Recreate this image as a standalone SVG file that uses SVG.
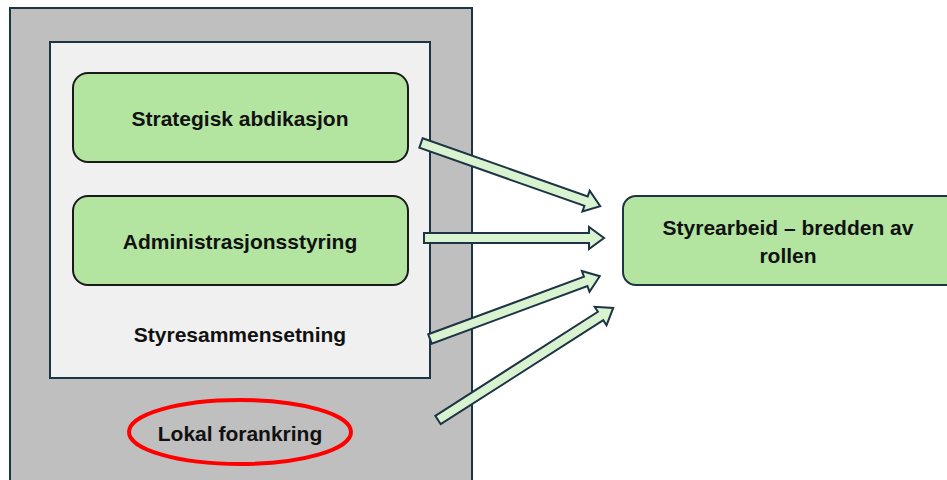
<svg xmlns="http://www.w3.org/2000/svg" width="947" height="480" viewBox="0 0 947 480">
  <style>
    .frame { stroke: #1c3444; stroke-width: 2; }
    .box { fill: #b3e5a1; stroke: #1a1a1a; stroke-width: 2; }
    .goal { fill: #b3e5a1; stroke: #1c3444; stroke-width: 2; }
    .arrow { fill: #d9f2d0; stroke: #1c3444; stroke-width: 2; stroke-linejoin: miter; }
    .label { font-family: "Liberation Sans", Arial, sans-serif; font-weight: bold; font-size: 21px; fill: #111; text-anchor: middle; dominant-baseline: central; }
  </style>

  <rect width="947" height="480" fill="#ffffff"/>

  <!-- outer grey panel -->
  <g id="outer">
    <rect class="frame" x="10" y="8" width="462" height="480" fill="#bfbfbf"/>
  </g>

  <!-- inner light panel: board composition -->
  <g id="styresammensetning">
    <rect class="frame" x="50" y="42" width="380" height="336" fill="#f0f0f0"/>
    <text class="label" x="240" y="334">Styresammensetning</text>
  </g>

  <g id="strategisk">
    <rect class="box" x="73" y="73" width="335" height="89" rx="15"/>
    <text class="label" x="240" y="118">Strategisk abdikasjon</text>
  </g>

  <g id="administrasjon">
    <rect class="box" x="73" y="196" width="335" height="89" rx="15"/>
    <text class="label" x="240" y="241">Administrasjonsstyring</text>
  </g>

  <g id="lokal">
    <ellipse cx="240" cy="432" rx="111" ry="32" fill="none" stroke="#ff0000" stroke-width="4"/>
    <text class="label" x="240" y="433">Lokal forankring</text>
  </g>

  <g id="styrearbeid">
    <rect class="goal" x="623" y="196" width="340" height="89" rx="13"/>
    <text class="label" x="788" y="227">Styrearbeid – bredden av</text>
    <text class="label" x="788" y="255">rollen</text>
  </g>

  <!-- block arrows towards the board-work box -->
  <g id="connectors">
    <polygon class="arrow" transform="translate(421,143) rotate(19.4)" points="0,-5 175,-5 175,-11 190,0 175,11 175,5 0,5"/>
    <polygon class="arrow" transform="translate(424,238)" points="0,-5 165,-5 165,-11 180,0 165,11 165,5 0,5"/>
    <polygon class="arrow" transform="translate(430,339) rotate(-20.3)" points="0,-5 166,-5 166,-11 181,0 166,11 166,5 0,5"/>
    <polygon class="arrow" transform="translate(438,420) rotate(-32.6)" points="0,-5 193,-5 193,-11 208,0 193,11 193,5 0,5"/>
  </g>
</svg>
